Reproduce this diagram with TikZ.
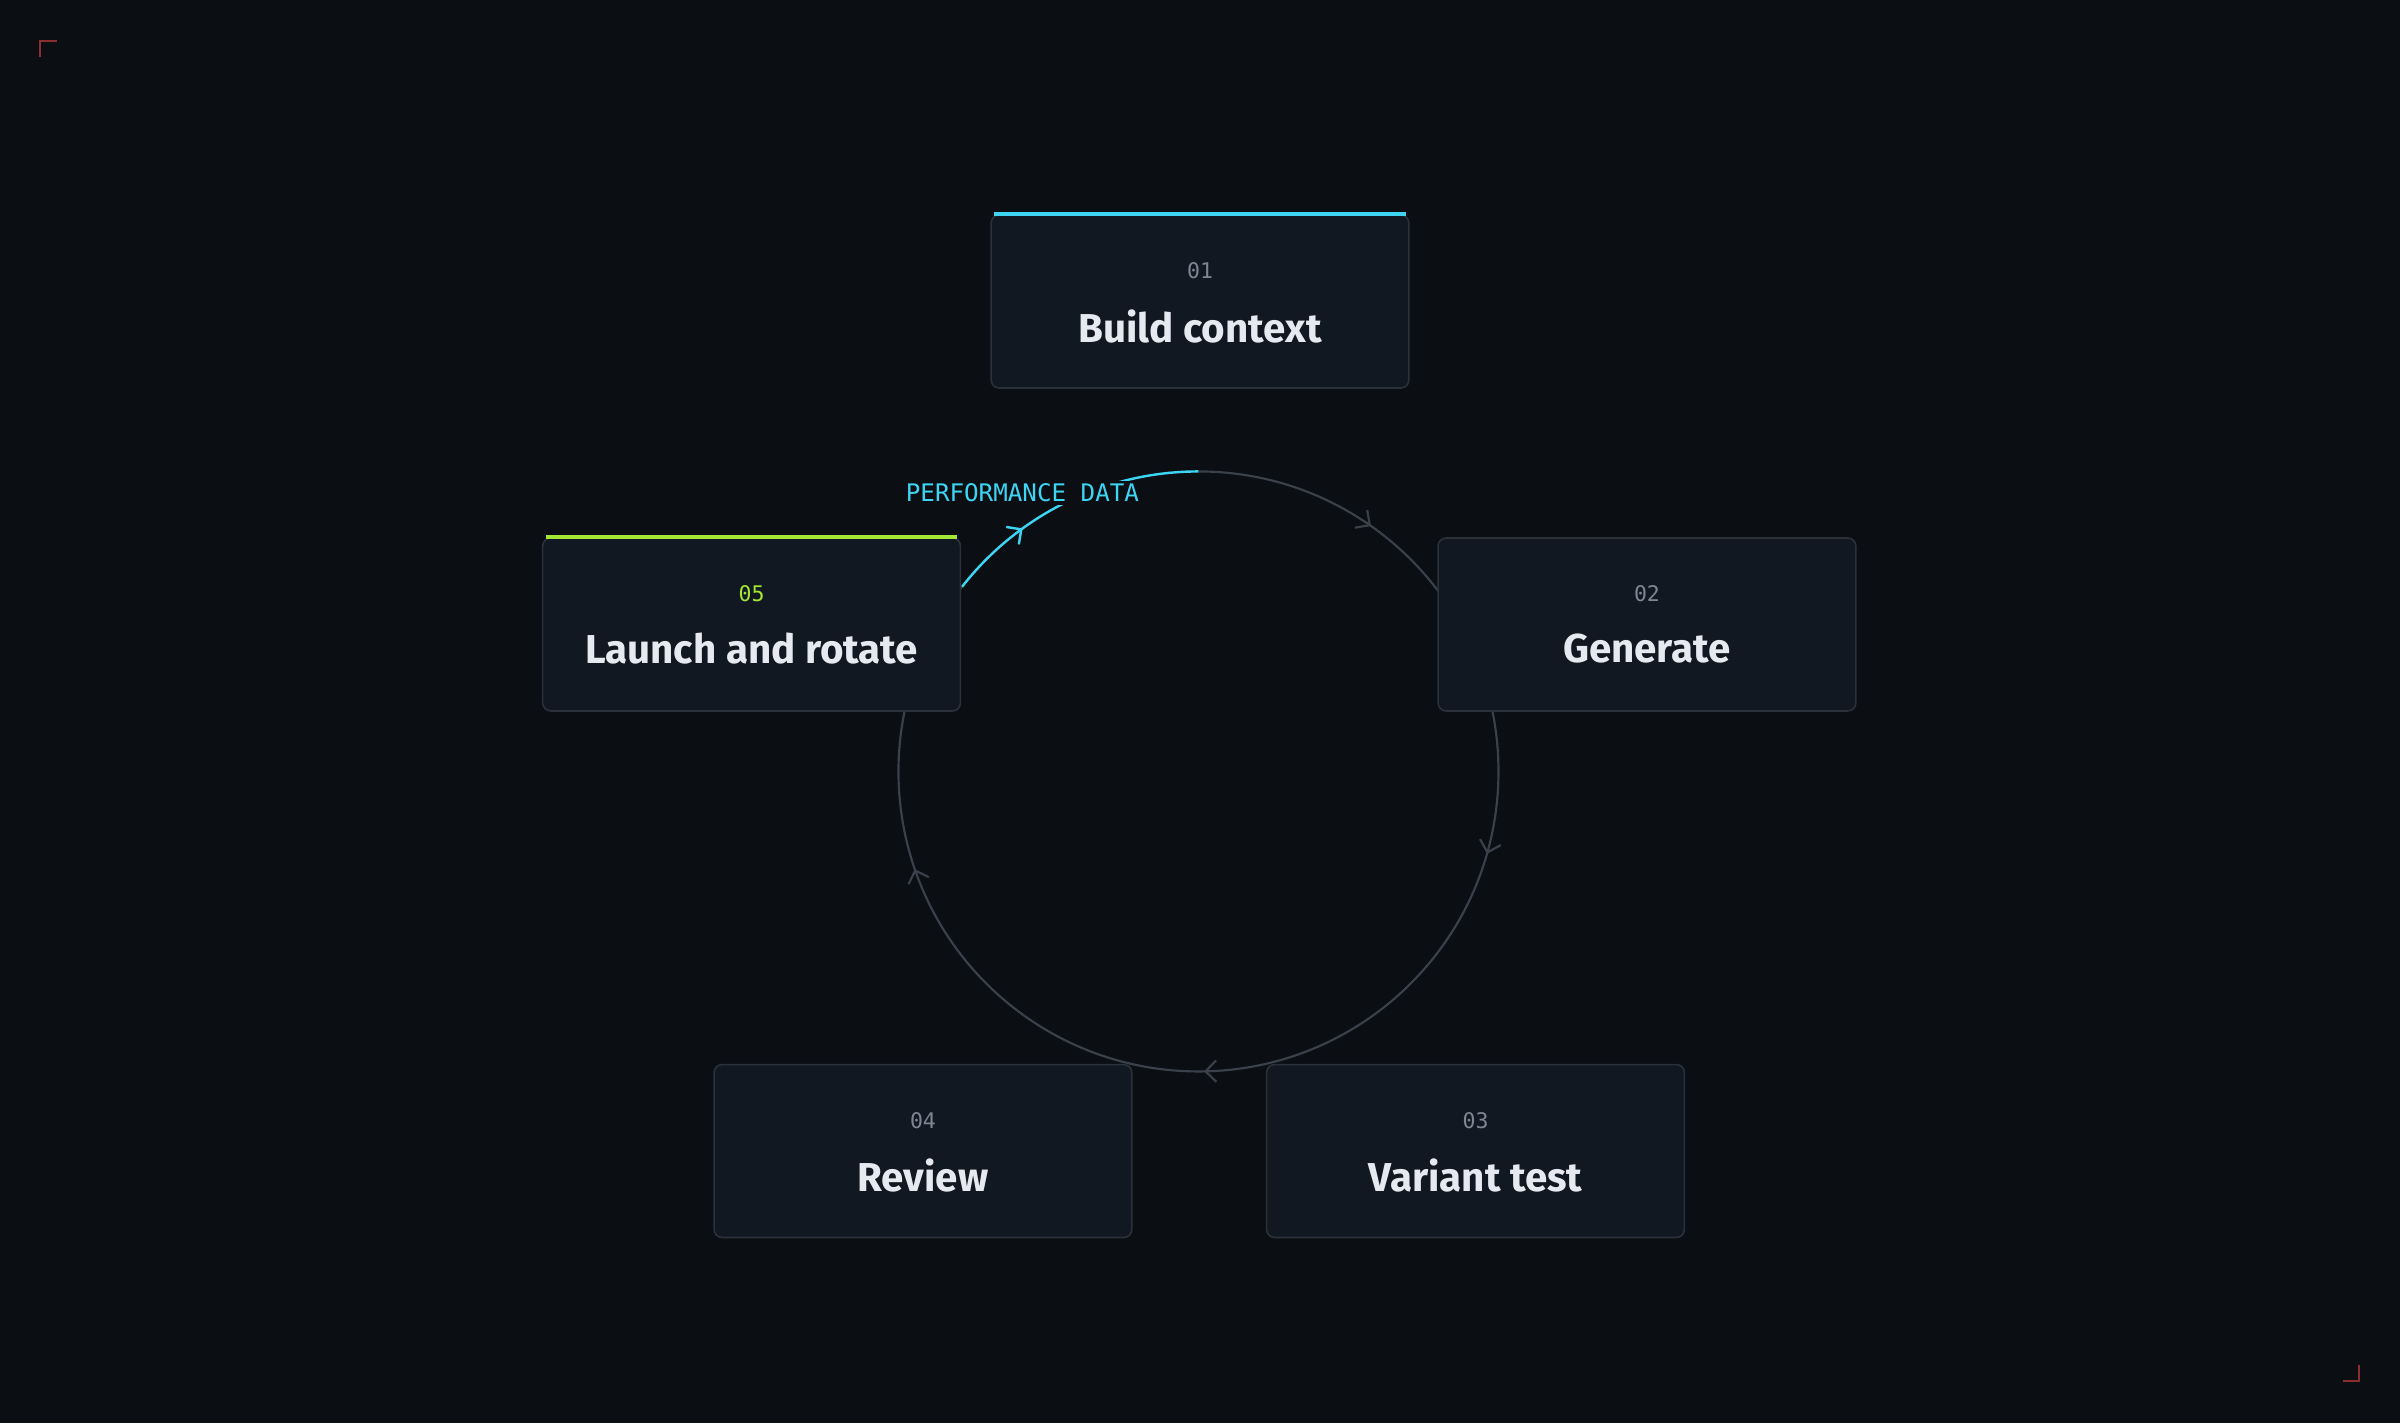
\documentclass[tikz,border=0pt]{standalone}
\usepackage{fontspec}
\setmainfont{Fira Sans}
\newfontfamily\codefont{DejaVu Sans Mono}
\usetikzlibrary{arrows.meta,decorations.markings,positioning,calc}
\definecolor{bgcol}{HTML}{0B0E13}
\definecolor{boxcol}{HTML}{121821}
\definecolor{edgecol}{HTML}{2A313B}
\definecolor{ringcol}{HTML}{3A414B}
\definecolor{numcol}{HTML}{7D8693}
\definecolor{titlecol}{HTML}{E6E9F0}
\definecolor{cyancol}{HTML}{3DD5F3}
\definecolor{limecol}{HTML}{A3E635}
\definecolor{markcol}{HTML}{8A2E2E}
\tikzset{
  step box/.style={draw=edgecol, fill=boxcol, rounded corners=3pt, line width=0.6pt,
    minimum width=5.46cm, minimum height=2.26cm},
  step num/.style={font=\codefont\fontsize{8}{8}\selectfont, text=numcol},
  step title/.style={font=\bfseries\fontsize{15}{15}\selectfont, text=titlecol},
  ring/.style={draw=ringcol, line width=0.8pt}
}
\begin{document}
\begin{tikzpicture}[x=0.02cm, y=-0.02cm]
    \fill[bgcol] (0,0) rectangle (1568,930);
    \useasboundingbox (0,0) rectangle (1568,930);
    % corner marks
    \draw[markcol, line width=0.8pt] (26,37) -- (26,27) -- (37,27);
    \draw[markcol, line width=0.8pt] (1531,902) -- (1541,902) -- (1541,892);
    % the ring
    \coordinate (C) at (783,504);
    \path[ring, decoration={markings,
        mark=at position 0.114 with {\arrow{Straight Barb[length=4pt,width=8pt]}},
        mark=at position 0.344 with {\arrow{Straight Barb[length=4pt,width=8pt]}},
        mark=at position 0.581 with {\arrow{Straight Barb[length=4pt,width=8pt]}},
        mark=at position 0.815 with {\arrow{Straight Barb[length=4pt,width=8pt]}}}, postaction={decorate}]
        ($(C)+(-90:196)$) arc[start angle=-90, end angle=218, radius=196];
    \path[draw=cyancol, line width=0.9pt, decoration={markings,
        mark=at position 0.31 with {\arrow{Straight Barb[length=4pt,width=8pt]}}}, postaction={decorate}]
        ($(C)+(218:196)$) arc[start angle=218, end angle=270, radius=196];
    \node[fill=bgcol, inner sep=1pt, text=cyancol, font=\codefont\fontsize{9}{9}\selectfont] (perf) at (668,322) {PERFORMANCE DATA};
    % the steps
    \foreach \pos/\name/\num/\title in {{(784,197)/build/01/Build context}, {(1076,408)/gen/02/Generate},
        {(964,752)/test/03/Variant test}, {(603,752)/review/04/Review}, {(491,408)/launch/05/Launch and rotate}}
    {
        \node[step box] (\name) at \pos {};
        \node[step num] (\name-num) at ($(\name.center)+(0,-20)$) {\num};
        \node[step title] (\name-title) at ($(\name.center)+(0,16)$) {\title};
    }
    \node[step num, text=limecol, fill=boxcol] at (launch-num) {05};
    % accent stripes
    \draw[cyancol, line width=1.6pt] ([xshift=1.5]build.north west) -- ([xshift=-1.5]build.north east);
    \draw[limecol, line width=1.6pt] ([xshift=1.5]launch.north west) -- ([xshift=-1.5]launch.north east);
\end{tikzpicture}
\end{document}
